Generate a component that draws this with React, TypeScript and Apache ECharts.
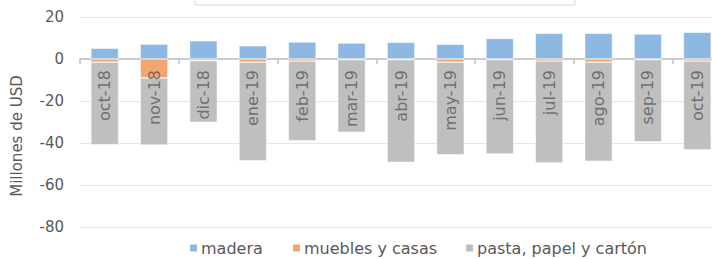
import React, { useEffect, useRef } from "react";
import * as echarts from "echarts";

const categories = ["oct-18", "nov-18", "dic-18", "ene-19", "feb-19", "mar-19", "abr-19", "may-19", "jun-19", "jul-19", "ago-19", "sep-19", "oct-19"];
const madera = [5.1, 7.1, 8.7, 6.3, 8.1, 7.6, 7.9, 7.0, 9.8, 12.2, 12.2, 11.9, 12.7];
const muebles = [-1.5, -9.0, -0.8, -1.5, -1.0, -0.3, -0.3, -1.5, -0.3, -1.0, -1.5, -0.3, -1.0];
const pasta = [-39.3, -32.0, -29.3, -46.9, -37.9, -34.6, -48.9, -44.1, -44.9, -48.5, -47.2, -39.1, -42.2];
const yTicks = [20, 0, -20, -40, -60, -80];
const seriesNames = ["madera", "muebles y casas", "pasta, papel y cartón"];

const FONT = "DejaVu Sans";
const TXT = "#595959";

export default function App() {
  const ref = useRef<HTMLDivElement>(null);
  useEffect(() => {
    const chart = echarts.init(ref.current!, undefined, { renderer: "svg" });
    const legendLefts = [188, 291, 464];
    chart.setOption({
      animation: false,
      textStyle: { fontFamily: FONT },
      grid: { left: 80, right: -10, top: 17, bottom: 32, containLabel: false, outerBoundsMode: "none" },
      legend: seriesNames.map((n, i) => ({
        bottom: 3,
        left: legendLefts[i],
        padding: 0,
        itemWidth: 9,
        itemHeight: 9,
        icon: "rect",
        textStyle: { fontFamily: FONT, fontSize: 16, color: TXT, padding: [0, 0, 0, -2] },
        data: [n],
      })),
      xAxis: {
        type: "category",
        data: categories,
        axisLine: { onZero: true, lineStyle: { color: "#bfbfbf", width: 1.5 } },
        axisTick: { show: true, alignWithLabel: false, length: 5, lineStyle: { color: "#bfbfbf", width: 1.5 } },
        axisLabel: { show: false },
      },
      yAxis: {
        type: "value",
        min: -80,
        max: 20,
        interval: 20,
        axisLine: { show: false },
        axisTick: { show: false },
        splitLine: { lineStyle: { color: "#e6e6e6", width: 1 } },
        axisLabel: {
          margin: 16,
          fontFamily: FONT,
          fontSize: 15,
          color: TXT,
          formatter: (v: number) => (yTicks.includes(v) ? String(v) : ""),
        },
      },
      series: [
        {
          name: seriesNames[0],
          type: "bar",
          stack: "total",
          data: madera,
          barWidth: "56%",
          itemStyle: { color: "#8db8e2", borderColor: "#ffffff", borderWidth: 0.5 },
        },
        {
          name: seriesNames[1],
          type: "bar",
          stack: "total",
          data: muebles,
          barWidth: "56%",
          itemStyle: { color: "#f3a66e", borderColor: "#ffffff", borderWidth: 0.5 },
        },
        {
          name: seriesNames[2],
          type: "bar",
          stack: "total",
          data: pasta,
          barWidth: "56%",
          itemStyle: { color: "#bfbfbf", borderColor: "#ffffff", borderWidth: 0.5 },
        },
        {
          name: "etiquetas",
          type: "scatter",
          data: categories.map(() => 0),
          symbolSize: 0,
          z: 20,
          silent: true,
          label: {
            show: true,
            formatter: "{b}",
            position: "bottom",
            distance: 11,
            rotate: 90,
            align: "right",
            verticalAlign: "middle",
            fontFamily: FONT,
            fontSize: 16,
            color: TXT,
          },
        },
      ],
      graphic: [
        {
          type: "rect",
          shape: { x: 195, y: -20, width: 380, height: 25 },
          style: { fill: "#ffffff", stroke: "#d9d9d9", lineWidth: 1 },
        },
        {
          type: "text",
          x: 17,
          y: 136,
          rotation: Math.PI / 2,
          style: {
            text: "Millones de USD",
            fontFamily: FONT,
            fontSize: 15,
            fill: TXT,
            align: "center",
            verticalAlign: "middle",
          },
        },
      ],
    });
    return () => chart.dispose();
  }, []);
  return <div ref={ref} style={{ width: 712, height: 259, position: "absolute", left: 0, top: 0 }} />;
}
